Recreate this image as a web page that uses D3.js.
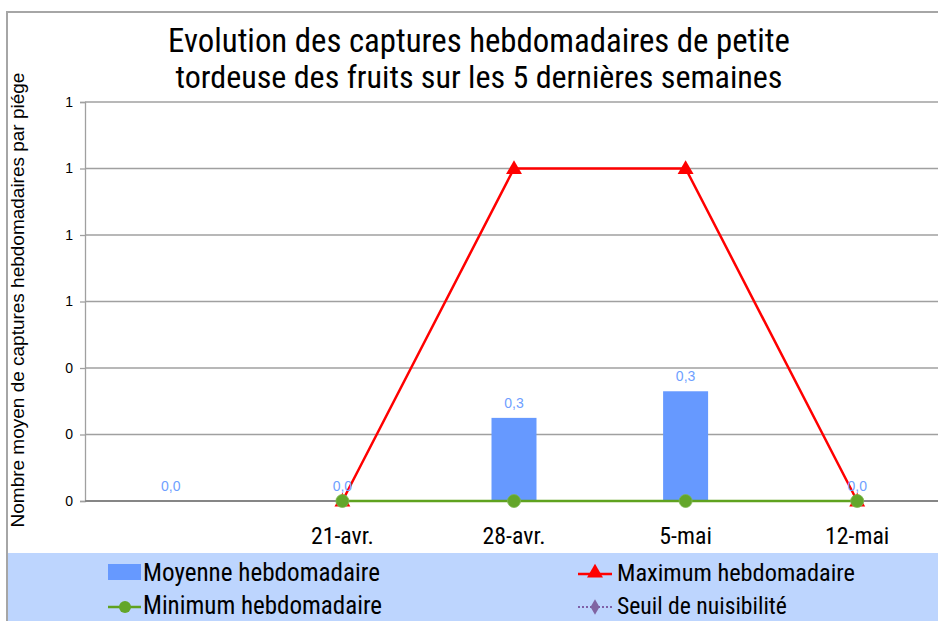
<!DOCTYPE html>
<html>
<head>
<meta charset="utf-8">
<script src="https://cdn.jsdelivr.net/npm/d3@7"></script>
<style>
  html, body { margin: 0; padding: 0; background: #fff; }
  svg { display: block; }
</style>
</head>
<body>
<svg id="chart" width="938" height="621"></svg>
<script>
// ---- data ----
const categories = ["", "21-avr.", "28-avr.", "5-mai", "12-mai"];
const moyenne = [0, 0, 0.25, 0.33, 0];
const maximum = [null, 0, 1, 1, 0];
const minimum = [null, 0, 0, 0, 0];
const seuil = [null, null, null, null, null];
const yTicks = [0, 0.2, 0.4, 0.6, 0.8, 1.0, 1.2];
const yTickLabels = ["0", "0", "0", "1", "1", "1", "1"];
const titleLines = ["Evolution des captures hebdomadaires de  petite", "tordeuse des fruits sur les 5 dernières semaines"];
const yTitle = "Nombre moyen de captures hebdomadaires par piége";
const legendItems = ["Moyenne hebdomadaire", "Maximum hebdomadaire", "Minimum hebdomadaire", "Seuil de nuisibilité"];

// ---- styles ----
const narrow = "'Liberation Sans Narrow', 'Arial Narrow', 'Roboto Condensed', sans-serif";
const sans = "'Liberation Sans', Arial, sans-serif";
const barColor = "#6699FF";
const labelColor = "#6F9FFF";
const red = "#FF0000";
const green = "#5FA21F";
const purple = "#7F60A8";
const grid = "#A0A0A0";

const svg = d3.select("#chart");

function fit(sel, target) {
  const node = sel.node();
  const fs = parseFloat(sel.attr("font-size"));
  const w = node.getComputedTextLength();
  if (w > 0) sel.attr("font-size", (fs * target / w).toFixed(2));
  return sel;
}

// outer frame
svg.append("rect").attr("x", 7).attr("y", 12).attr("width", 960).attr("height", 640)
  .attr("fill", "#fff").attr("stroke", "#A6A6A6").attr("stroke-width", 2);

// legend background
svg.append("rect").attr("x", 8).attr("y", 553).attr("width", 940).attr("height", 80)
  .attr("fill", "#BDD5FE");

// scales
const x = d3.scaleBand().domain(d3.range(categories.length)).range([85, 943]).padding(0);
const y = d3.scaleLinear().domain([0, 1.2]).range([501, 102]);
const cx = i => x(i) + x.bandwidth() / 2;
const barW = 45;

// gridlines
svg.append("g").selectAll("line").data(yTicks.slice(1)).join("line")
  .attr("x1", 85).attr("x2", 943)
  .attr("y1", d => y(d)).attr("y2", d => y(d))
  .attr("stroke", grid).attr("stroke-width", 1.3);

// y axis
const yAxis = d3.axisLeft(y).tickValues(yTicks).tickSize(5).tickPadding(7)
  .tickFormat((d, i) => yTickLabels[i]);
const yg = svg.append("g").attr("transform", "translate(85,0)").call(yAxis);
yg.select(".domain").attr("stroke", grid).attr("stroke-width", 1.3);
yg.selectAll(".tick line").attr("stroke", grid).attr("stroke-width", 1.3);
yg.selectAll(".tick text").attr("font-family", sans).attr("font-size", 14).attr("fill", "#000");

// bars
svg.append("g").selectAll("rect").data(moyenne).join("rect")
  .attr("x", (d, i) => cx(i) - barW / 2)
  .attr("width", barW)
  .attr("y", d => y(d))
  .attr("height", d => y(0) - y(d))
  .attr("fill", barColor);

// x axis baseline
const xAxis = d3.axisBottom(x).tickSize(0).tickPadding(0).tickFormat(i => categories[i]);
const xg = svg.append("g").attr("transform", `translate(0,${y(0)})`).call(xAxis)
  .attr("font-family", narrow).attr("font-size", 18);
xg.select(".domain").attr("stroke", "#868686").attr("stroke-width", 2)
  .attr("d", `M85,0H943`);
const xt = xg.selectAll(".tick text").attr("font-family", narrow).attr("font-size", 18)
  .attr("fill", "#000").attr("dy", null).attr("y", 43);
// common size so "21-avr." spans ~63px
{
  const ref = xt.filter((d, i) => categories[d] === "21-avr.");
  const w = ref.node().getComputedTextLength();
  const fs = (18 * 63 / w).toFixed(2);
  xt.attr("font-size", fs);
}

// min line
const lineGen = d3.line().defined(d => d.v !== null).x(d => cx(d.i)).y(d => y(d.v));
svg.append("path").datum(minimum.map((v, i) => ({ v, i })))
  .attr("d", lineGen).attr("fill", "none").attr("stroke", green).attr("stroke-width", 2.5);

// max line
svg.append("path").datum(maximum.map((v, i) => ({ v, i })))
  .attr("d", lineGen).attr("fill", "none").attr("stroke", red).attr("stroke-width", 2.5);

// max markers
const tri = d3.symbol().type(d3.symbolTriangle).size(110);
svg.append("g").selectAll("path").data(maximum.map((v, i) => ({ v, i })).filter(d => d.v !== null)).join("path")
  .attr("d", tri).attr("transform", d => `translate(${cx(d.i)},${y(d.v) + 1})`)
  .attr("fill", red);

// min markers
svg.append("g").selectAll("circle").data(minimum.map((v, i) => ({ v, i })).filter(d => d.v !== null)).join("circle")
  .attr("cx", d => cx(d.i)).attr("cy", d => y(d.v)).attr("r", 6.5)
  .attr("fill", "#63A62A").attr("stroke", "#7DB850").attr("stroke-width", 0.8);

// data labels
svg.append("g").selectAll("text").data(moyenne).join("text")
  .attr("x", (d, i) => cx(i)).attr("y", d => y(d) - 10)
  .attr("text-anchor", "middle").attr("font-family", sans).attr("font-size", 14)
  .attr("fill", labelColor)
  .text(d => d3.format(".1f")(d).replace(".", ","));

// title
titleLines.forEach((t, k) => {
  const s = svg.append("text").attr("x", 479).attr("y", 52 + k * 36)
    .attr("text-anchor", "middle").attr("font-family", narrow).attr("font-size", 28)
    .attr("fill", "#000").text(t);
  fit(s, k === 0 ? 622 : 607);
});

// y title
const yt = svg.append("text").attr("transform", "translate(24,300) rotate(-90)")
  .attr("text-anchor", "middle").attr("font-family", sans).attr("font-size", 15)
  .attr("fill", "#000").text(yTitle);
fit(yt, 455);

// legend
const lg = svg.append("g");
// Moyenne
lg.append("rect").attr("x", 108).attr("y", 564).attr("width", 33).attr("height", 16).attr("fill", barColor);
// Maximum
lg.append("line").attr("x1", 578).attr("x2", 612).attr("y1", 574).attr("y2", 574).attr("stroke", red).attr("stroke-width", 2.5);
lg.append("path").attr("d", tri).attr("transform", "translate(595,573)").attr("fill", red);
// Minimum
lg.append("line").attr("x1", 108).attr("x2", 141).attr("y1", 607).attr("y2", 607).attr("stroke", green).attr("stroke-width", 2.5);
lg.append("circle").attr("cx", 125).attr("cy", 607).attr("r", 6).attr("fill", "#63A62A");
// Seuil
lg.append("line").attr("x1", 578).attr("x2", 612).attr("y1", 607).attr("y2", 607).attr("stroke", purple).attr("stroke-width", 2).attr("stroke-dasharray", "2,2");
lg.append("path").attr("d", d3.symbol().type(d3.symbolDiamond).size(70)).attr("transform", "translate(595,607)").attr("fill", "#8064A2");

const legPos = [[143, 581], [617, 581], [143, 614], [617, 614]];
const legW = [237, 238, 239, 170];
legendItems.forEach((t, k) => {
  const s = lg.append("text").attr("x", legPos[k][0]).attr("y", legPos[k][1])
    .attr("font-family", narrow).attr("font-size", 19).attr("fill", "#000").text(t);
  fit(s, legW[k]);
});
</script>
</body>
</html>
